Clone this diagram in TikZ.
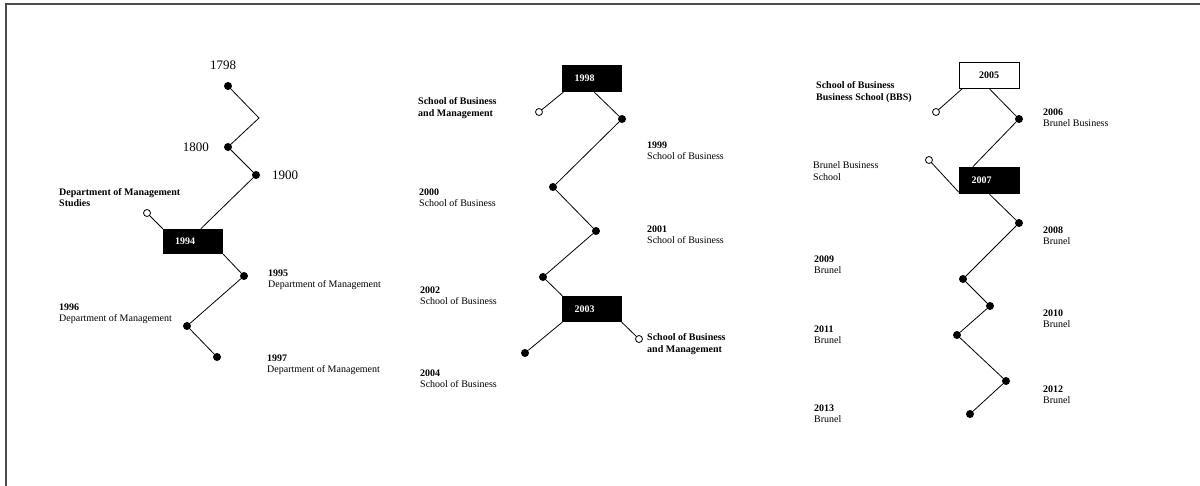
\documentclass[tikz,border=0pt]{standalone}
\usepackage{fontspec}
\setmainfont{Liberation Serif}
\usetikzlibrary{calc}
\begin{document}
\begin{tikzpicture}[x=1pt,y=-1pt,
  dot/.style={circle,fill=black,inner sep=0pt,minimum size=8pt},
  odot/.style={circle,draw=black,fill=white,inner sep=0pt,minimum size=7pt,line width=0.8pt},
  blackbox/.style={fill=black,text=white,font=\bfseries\fontsize{10}{12}\selectfont,minimum width=60pt,minimum height=25pt,inner sep=0pt},
  whitebox/.style={draw=black,fill=white,line width=0.8pt,font=\bfseries\fontsize{10}{12}\selectfont,minimum width=60pt,minimum height=26pt,inner sep=0pt},
  lbl/.style={anchor=north west,align=left,inner sep=0pt,font=\fontsize{10}{11.5}\selectfont},
  big/.style={inner sep=0pt,font=\fontsize{13}{15}\selectfont},
  conn/.style={line width=0.8pt}]
\useasboundingbox (0,0) rectangle (1200,486);
\draw[line width=1.5pt,black!70] (1200,4) -- (6,4) -- (6,486);

% ---------- panel 1 ----------
\node[dot] (d1798) at (228,86) {};
\coordinate (bend1) at (259,118);
\node[dot] (d1800) at (228,147) {};
\node[dot] (d1900) at (256,175) {};
\node[odot] (o1) at (147,213) {};
\node[blackbox] (b1994) at (193,241.5) {1994\kern16pt};
\node[dot] (d1995) at (244,276) {};
\node[dot] (d1996) at (187,326) {};
\node[dot] (d1997) at (217,357) {};
\coordinate (t1994) at ([xshift=38pt]b1994.north west);

\draw[conn] (d1798) -- (bend1) -- (d1800) -- (d1900) -- (t1994);
\draw[conn] (o1) -- (b1994.north west);
\draw[conn] (b1994.south east) -- (d1995) -- (d1996) -- (d1997);

\node[big] (l1798) at (223,65) {1798};
\node[big,anchor=east] (l1800) at (209,147) {1800};
\node[big,anchor=west] (l1900) at (272,175) {1900};
\node[lbl,font=\bfseries\fontsize{10}{11}\selectfont] (ldms) at (59,188.5) {Department of Management\\Studies};
\node[lbl] (l1995) at (268,269.5) {\textbf{1995}\\Department of Management};
\node[lbl] (l1996) at (59,303.5) {\textbf{1996}\\Department of Management};
\node[lbl] (l1997) at (267,354.5) {\textbf{1997}\\Department of Management};

% ---------- panel 2 ----------
\node[blackbox,minimum height=27pt] (b1998) at (591.5,78.5) {1998\kern14pt};
\node[odot] (o2) at (539,112) {};
\node[dot] (d1999) at (622,119) {};
\node[dot] (d2000) at (553,187) {};
\node[dot] (d2001) at (596,231) {};
\node[dot] (d2002) at (543,277) {};
\node[blackbox,minimum height=26pt] (b2003) at (591.5,309) {2003\kern14pt};
\node[dot] (d2004) at (525,353) {};
\node[odot] (o3) at (639,339) {};

\draw[conn] (o2) -- ([xshift=2pt]b1998.south west);
\draw[conn] ([xshift=33pt]b1998.south west) -- (d1999) -- (d2000) -- (d2001) -- (d2002) -- ([xshift=1pt]b2003.north west);
\draw[conn] ([xshift=1pt]b2003.south west) -- (d2004);
\draw[conn] (b2003.south east) -- (o3);

\node[lbl,font=\bfseries\fontsize{10}{12}\selectfont] (lsbm1) at (418,97.5) {School of Business\\and Management};
\node[lbl] (l1999) at (647,141.5) {\textbf{1999}\\School of Business};
\node[lbl] (l2000) at (419,188.5) {\textbf{2000}\\School of Business};
\node[lbl] (l2001) at (647,225.5) {\textbf{2001}\\School of Business};
\node[lbl] (l2002) at (420,286.5) {\textbf{2002}\\School of Business};
\node[lbl,font=\bfseries\fontsize{10}{12}\selectfont] (lsbm2) at (647,333.5) {School of Business\\and Management};
\node[lbl] (l2004) at (420,369.5) {\textbf{2004}\\School of Business};

% ---------- panel 3 ----------
\node[whitebox] (b2005) at (989,75) {2005};
\node[odot] (o4) at (936,112) {};
\node[dot] (d2006) at (1019,119) {};
\node[blackbox,minimum width=61pt,minimum height=27pt] (b2007) at (989.5,180.5) {2007\kern16pt};
\node[odot] (o5) at (929,160) {};
\node[dot] (d2008) at (1019,223) {};
\node[dot] (d2009) at (963,279) {};
\node[dot] (d2010) at (990,306) {};
\node[dot] (d2011) at (957,335) {};
\node[dot] (d2012) at (1006,381) {};
\node[dot] (d2013) at (970,414) {};

\draw[conn] (o4) -- ([xshift=4pt]b2005.south west);
\draw[conn] (b2005.south) -- (d2006) -- ([xshift=14pt]b2007.north west);
\draw[conn] (o5) -- ([yshift=2pt]b2007.south west);
\draw[conn] (b2007.south) -- (d2008) -- (d2009) -- (d2010) -- (d2011) -- (d2012) -- (d2013);

\node[lbl,font=\bfseries\fontsize{10}{12}\selectfont] (lbbs) at (816,81.5) {School of Business\\Business School (BBS)};
\node[lbl] (l2006) at (1043,108.5) {\textbf{2006}\\Brunel Business};
\node[lbl] (lbbs2) at (813,161.5) {Brunel Business\\School};
\node[lbl] (l2008) at (1043,226.5) {\textbf{2008}\\Brunel};
\node[lbl] (l2009) at (814,255.5) {\textbf{2009}\\Brunel};
\node[lbl] (l2010) at (1043,309.5) {\textbf{2010}\\Brunel};
\node[lbl] (l2011) at (814,325.5) {\textbf{2011}\\Brunel};
\node[lbl] (l2012) at (1043,385.5) {\textbf{2012}\\Brunel};
\node[lbl] (l2013) at (814,404.5) {\textbf{2013}\\Brunel};
\end{tikzpicture}
\end{document}
